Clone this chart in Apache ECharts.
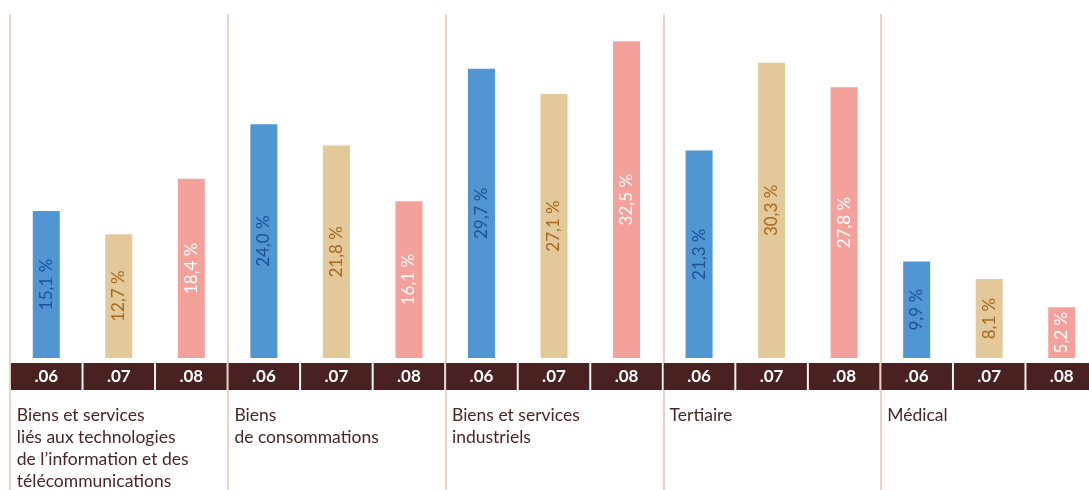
<!DOCTYPE html>
<html>
<head>
<meta charset="utf-8">
<script src="https://cdn.jsdelivr.net/npm/echarts@6/dist/echarts.min.js"></script>
<style>
html,body{margin:0;padding:0;background:#fff;overflow:hidden;}
#wrap{width:1089px;height:490px;overflow:hidden;position:relative;}
#c{width:1100px;height:490px;position:absolute;left:0;top:0;}
</style>
</head>
<body>
<div id="wrap"><div id="c"></div></div>
<script>
const groups = [
  'Biens et services\nliés aux technologies\nde l’information et des\ntélécommunications',
  'Biens\nde consommations',
  'Biens et services\nindustriels',
  'Tertiaire',
  'Médical'
];
const years = ['.06', '.07', '.08'];
const values06 = [15.1, 24.0, 29.7, 21.3, 9.9];
const values07 = [12.7, 21.8, 27.1, 30.3, 8.1];
const values08 = [18.4, 16.1, 32.5, 27.8, 5.2];

const barColors = ['#5096d2', '#e3c89a', '#f4a19b'];
const labelColors = ['#1f4f9c', '#a3691c', '#ffffff'];
const seriesValues = [values06, values07, values08];

const cats = [];
const data = [];
groups.forEach((g, gi) => {
  years.forEach((y, yi) => {
    cats.push(gi + '|' + y);
    const v = seriesValues[yi][gi];
    data.push({
      value: v,
      itemStyle: { color: barColors[yi] },
      label: { color: labelColors[yi] }
    });
  });
});

const FONT = 'Lato, "Open Sans", sans-serif';
const chart = echarts.init(document.getElementById('c'), null, { renderer: 'canvas' });
chart.setOption({
  animation: false,
  backgroundColor: '#ffffff',
  grid: [
    { left: 10, top: 17, right: 1, bottom: 130 },
    { left: 10, top: 14, right: 1, bottom: 0 }
  ],
  xAxis: [
    {
      type: 'category', gridIndex: 0, data: cats,
      axisLine: { show: false }, axisTick: { show: false }, splitLine: { show: false },
      axisLabel: {
        interval: 0, margin: 5,
        formatter: v => '{b|' + v.split('|')[1] + '}',
        rich: {
          b: {
            backgroundColor: '#4a2121', color: '#ffffff', fontFamily: FONT,
            fontWeight: 'bold', fontSize: 17, width: 70.6, height: 27, lineHeight: 27, align: 'center'
          }
        }
      }
    },
    {
      type: 'category', gridIndex: 0, data: groups, position: 'bottom',
      axisLine: { show: false }, axisTick: { show: false }, splitLine: { show: false },
      axisLabel: {
        interval: 0, margin: 46,
        formatter: v => v.split('\n').map(l => '{t|' + l + '}').join('\n'),
        rich: {
          t: { color: '#4a2626', fontFamily: FONT, fontSize: 17.5, lineHeight: 22, width: 204, align: 'left' }
        }
      }
    },
    {
      type: 'category', gridIndex: 1, data: groups,
      axisLine: { show: false }, axisTick: { show: false }, axisLabel: { show: false },
      splitLine: { show: true, lineStyle: { color: '#e9c3b3', width: 1.5 } }
    }
  ],
  yAxis: [
    { type: 'value', gridIndex: 0, min: 0, max: 35, show: false },
    { type: 'value', gridIndex: 1, show: false }
  ],
  series: [{
    type: 'bar', xAxisIndex: 0, yAxisIndex: 0, data: data, barWidth: 27, z: 3,
    label: {
      show: true, position: 'inside', rotate: 90,
      formatter: p => String(p.value.toFixed(1)).replace('.', ',') + ' %',
      fontFamily: FONT, fontSize: 17
    }
  }]
});
</script>
</body>
</html>
